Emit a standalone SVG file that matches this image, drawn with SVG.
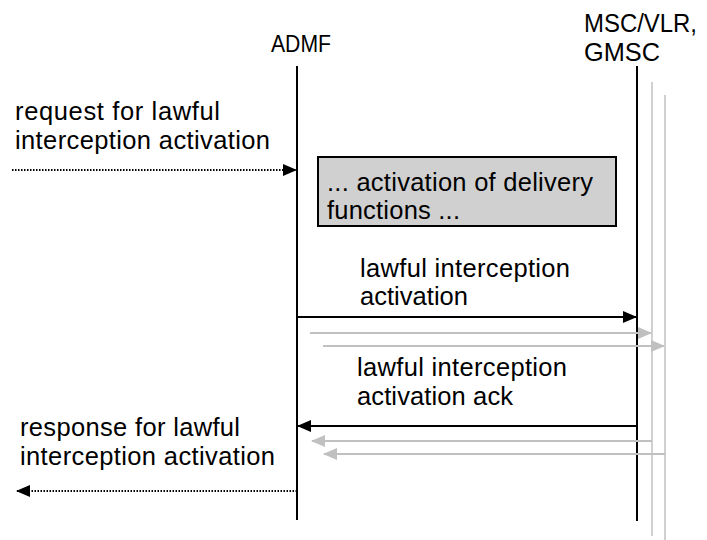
<svg xmlns="http://www.w3.org/2000/svg" width="707" height="540" viewBox="0 0 707 540">
<style>
text{font-family:"Liberation Sans",Arial,sans-serif;font-size:25.5px;fill:#000}
.life{stroke:#000;stroke-width:2;fill:none}
.glife{stroke:#c0c0c0;stroke-width:1.5;fill:none}
.msg{stroke:#000;stroke-width:2;fill:none}
.gmsg{stroke:#c0c0c0;stroke-width:2;fill:none}
.dot{stroke:#000;stroke-width:2;stroke-dasharray:1.5 1.5;fill:none}
</style>
<defs>
<marker id="ab" markerWidth="14" markerHeight="12" refX="13" refY="6" orient="auto" markerUnits="userSpaceOnUse"><path d="M0,0 L14,6 L0,12 Z" fill="#000"/></marker>
<marker id="ag" markerWidth="14" markerHeight="12" refX="13" refY="6" orient="auto" markerUnits="userSpaceOnUse"><path d="M0,0 L14,6 L0,12 Z" fill="#c0c0c0"/></marker>
</defs>
<g id="admf">
<text x="271" y="52" style="font-size:23px" textLength="60" lengthAdjust="spacingAndGlyphs">ADMF</text>
<line class="life" x1="297" y1="66" x2="297" y2="520"/>
</g>
<g id="msc">
<text x="584" y="32" textLength="113" lengthAdjust="spacingAndGlyphs">MSC/VLR,</text>
<text x="584" y="61" textLength="76" lengthAdjust="spacingAndGlyphs">GMSC</text>
<line class="life" x1="637" y1="66" x2="637" y2="521"/>
<line class="glife" x1="652" y1="82" x2="652" y2="536"/>
<line class="glife" x1="665" y1="95" x2="665" y2="540"/>
</g>
<g id="delivery">
<rect x="318" y="157" width="298" height="69" fill="#d0d0d0" stroke="#000" stroke-width="2"/>
<text x="327" y="191" textLength="266">... activation of delivery</text>
<text x="327" y="219" textLength="133">functions ...</text>
</g>
<g id="labels">
<text x="15" y="120" textLength="205">request for lawful</text>
<text x="15" y="149" textLength="255">interception activation</text>
<text x="360" y="277" textLength="210">lawful interception</text>
<text x="360" y="305" textLength="108">activation</text>
<text x="357" y="376" textLength="210">lawful interception</text>
<text x="357" y="405" textLength="156">activation ack</text>
<text x="20" y="436" textLength="220">response for lawful</text>
<text x="20" y="465" textLength="255">interception activation</text>
</g>
<g id="connectors">
<line class="dot" x1="12" y1="170" x2="296" y2="170" marker-end="url(#ab)"/>
<line class="msg" x1="297" y1="317" x2="636" y2="317" marker-end="url(#ab)"/>
<line class="gmsg" x1="310" y1="333" x2="651" y2="333" marker-end="url(#ag)"/>
<line class="gmsg" x1="323" y1="346" x2="664" y2="346" marker-end="url(#ag)"/>
<line class="msg" x1="637" y1="426" x2="298" y2="426" marker-end="url(#ab)"/>
<line class="gmsg" x1="652" y1="441" x2="312" y2="441" marker-end="url(#ag)"/>
<line class="gmsg" x1="665" y1="454" x2="324" y2="454" marker-end="url(#ag)"/>
<line class="dot" x1="297" y1="491" x2="17" y2="491" marker-end="url(#ab)"/>
</g>
</svg>
